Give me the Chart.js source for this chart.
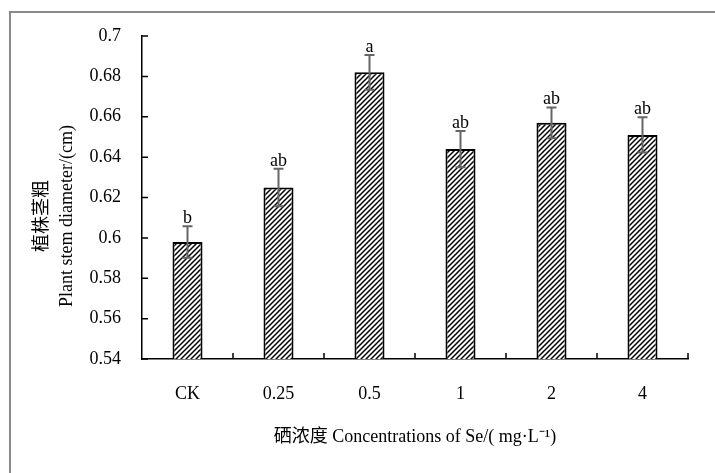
<!DOCTYPE html>
<html>
<head>
<meta charset="utf-8">
<script src="https://cdn.jsdelivr.net/npm/chart.js@4.4.1/dist/chart.umd.min.js"></script>
<style>
  html, body { margin: 0; padding: 0; background: #fff; }
  #wrap { position: relative; width: 715px; height: 473px; }
  #frame { position: absolute; left: 9px; top: 11px; right: 0; bottom: 0; border-left: 2px solid #8a8a8a; border-top: 2px solid #8a8a8a; }
  canvas { position: absolute; left: 0; top: 0; }
</style>
</head>
<body>
<div id="wrap">
  <div id="frame"></div>
  <canvas id="chart" width="715" height="473"></canvas>
</div>
<script>
// data
const categories = ['CK', '0.25', '0.5', '1', '2', '4'];
const stemDiameter = [0.598, 0.625, 0.682, 0.644, 0.657, 0.651];
const stdError = [0.0078, 0.0093, 0.0086, 0.009, 0.0076, 0.0087];
const sigLetters = ['b', 'ab', 'a', 'ab', 'ab', 'ab'];
const yTicks = [0.54, 0.56, 0.58, 0.6, 0.62, 0.64, 0.66, 0.68, 0.7];

const FONT = '"Liberation Serif", "Times New Roman", "Noto Sans CJK SC", serif';

// diagonal hatch fill
function makeHatch() {
  const s = 5;
  const c = document.createElement('canvas');
  c.width = s; c.height = s;
  const g = c.getContext('2d');
  g.fillStyle = '#fff';
  g.fillRect(0, 0, s, s);
  g.strokeStyle = '#000';
  g.lineWidth = 1.5;
  g.beginPath();
  g.moveTo(-1, s + 1); g.lineTo(s + 1, -1);
  g.moveTo(-1, 1); g.lineTo(1, -1);
  g.moveTo(s - 1, s + 1); g.lineTo(s + 1, s - 1);
  g.stroke();
  return g.createPattern(c, 'repeat');
}

// inward tick marks, error bars, letters and y title
const extras = {
  id: 'extras',
  afterDatasetsDraw(chart) {
    const ctx = chart.ctx;
    const xs = chart.scales.x, ys = chart.scales.y;
    const area = chart.chartArea;
    ctx.save();
    ctx.strokeStyle = '#000';
    ctx.lineWidth = 1.5;
    ctx.beginPath();
    ys.ticks.forEach((t, i) => {
      const y = ys.getPixelForTick(i);
      ctx.moveTo(area.left, y); ctx.lineTo(area.left + 6, y);
    });
    const half = (xs.getPixelForValue(1) - xs.getPixelForValue(0)) / 2;
    categories.forEach((c, i) => {
      const x = xs.getPixelForValue(i) + half;
      ctx.moveTo(x, area.bottom); ctx.lineTo(x, area.bottom - 6);
    });
    ctx.stroke();

    const meta = chart.getDatasetMeta(0);
    ctx.strokeStyle = '#666';
    ctx.lineWidth = 2;
    ctx.fillStyle = '#000';
    ctx.font = '18px ' + FONT;
    ctx.textAlign = 'center';
    ctx.textBaseline = 'alphabetic';
    meta.data.forEach((bar, i) => {
      const x = bar.x;
      const top = ys.getPixelForValue(stemDiameter[i] + stdError[i]);
      const bot = ys.getPixelForValue(stemDiameter[i] - stdError[i]);
      ctx.beginPath();
      ctx.moveTo(x, top); ctx.lineTo(x, bot);
      ctx.moveTo(x - 5, top); ctx.lineTo(x + 5, top);
      ctx.moveTo(x - 5, bot); ctx.lineTo(x + 5, bot);
      ctx.stroke();
      ctx.fillText(sigLetters[i], x, top - 3);
    });

    // y axis title, two rotated lines
    ctx.save();
    ctx.textBaseline = 'middle';
    ctx.translate(42, 216);
    ctx.rotate(-Math.PI / 2);
    ctx.fillText('植株茎粗', 0, 0);
    ctx.fillText('Plant stem diameter/(cm)', 0, 25);
    ctx.restore();
    ctx.restore();
  }
};

new Chart(document.getElementById('chart'), {
  type: 'bar',
  data: {
    labels: categories,
    datasets: [{
      data: stemDiameter,
      backgroundColor: makeHatch(),
      borderColor: '#000',
      borderWidth: 2,
      borderSkipped: 'bottom',
      barPercentage: 0.33,
      categoryPercentage: 1
    }]
  },
  options: {
    responsive: false,
    animation: false,
    devicePixelRatio: 1,
    layout: { padding: { left: 0, right: 27, top: 36, bottom: 0 } },
    plugins: { legend: { display: false }, tooltip: { enabled: false } },
    scales: {
      x: {
        afterFit: s => { s.height = 114; },
        grid: { drawOnChartArea: false, drawTicks: false },
        border: { color: '#000', width: 1.5 },
        ticks: { color: '#000', padding: 24, font: { family: FONT, size: 18 } },
        title: {
          display: true,
          text: '硒浓度 Concentrations of Se/( mg·L⁻¹)',
          color: '#000',
          font: { family: FONT, size: 18 },
          padding: { top: 0, bottom: 25 }
        }
      },
      y: {
        min: 0.54,
        max: 0.7,
        afterFit: s => { s.width = 142; },
        afterBuildTicks: s => { s.ticks = yTicks.map(v => ({ value: v })); },
        grid: { drawOnChartArea: false, drawTicks: false },
        border: { color: '#000', width: 1.5 },
        ticks: {
          color: '#000',
          padding: 21,
          font: { family: FONT, size: 18 },
          callback: v => String(Number(v.toFixed(2)))
        }
      }
    }
  },
  plugins: [extras]
});
</script>
</body>
</html>
